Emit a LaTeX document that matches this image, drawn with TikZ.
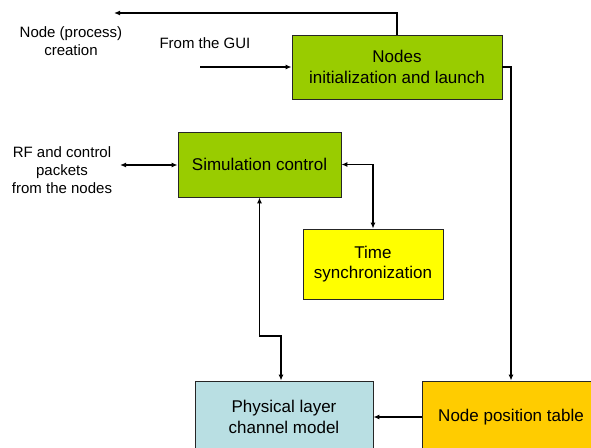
\documentclass[tikz,border=0pt]{standalone}
\usepackage{fontspec}
\setmainfont{Liberation Sans}
\usetikzlibrary{arrows.meta}
\definecolor{cgreen}{RGB}{153,204,0}
\definecolor{cyellow}{RGB}{255,255,0}
\definecolor{cblue}{RGB}{185,223,227}
\definecolor{corange}{RGB}{255,204,0}
\tikzset{
  box/.style={draw=black!85, line width=0.8pt, rectangle, align=center, inner sep=0pt,
    font=\fontsize{17}{20.5}\selectfont},
  lbl/.style={align=center, inner sep=0pt, font=\fontsize{15}{18}\selectfont},
  conn/.style={line width=1.8pt, -{Latex[length=6pt,width=5pt]}},
  dconn/.style={line width=1.8pt, {Latex[length=6pt,width=5pt]}-{Latex[length=6pt,width=5pt]}},
}
\begin{document}
\begin{tikzpicture}[x=1pt,y=-1pt]
\useasboundingbox (0,0) rectangle (591,447);
\clip (0,0) rectangle (591,447);
\node[box, fill=cgreen, minimum width=210, minimum height=64] (init) at (397,67) {Nodes\\initialization and launch};
\node[box, fill=cgreen, minimum width=163, minimum height=65] (sim) at (259.5,164.5) {Simulation control};
\node[box, fill=cyellow, minimum width=140, minimum height=70] (time) at (373,264) {Time\\synchronization};
\node[box, fill=cblue, minimum width=178, minimum height=72] (phys) at (284,417) {Physical layer\\channel model};
\node[box, fill=corange, minimum width=178, minimum height=72] (npt) at (511,417) {Node position table};

\node[lbl] (creation) at (71,41) {Node (process)\\creation};
\node[lbl] (gui) at (205,43) {From the GUI};
\node[lbl] (rf) at (62,170) {RF and control\\packets\\from the nodes};

\coordinate (topend) at (114,13);
\coordinate (guistart) at (200,67);
\coordinate (rfend) at (120,165);
\coordinate (bend) at (281,336);

\draw[conn] (init.north) |- (topend);
\draw[conn] (guistart) -- (init.west);
\draw[conn] (init.east) -| (npt.north);
\draw[dconn] (rfend) -- (rfend -| sim.west);
\draw[dconn] (sim.east) -| (time.north);
\draw[dconn] (sim.south) |- (bend) -- (bend |- phys.north);
\draw[conn] (npt.west) -- (phys.east);
\end{tikzpicture}
\end{document}
